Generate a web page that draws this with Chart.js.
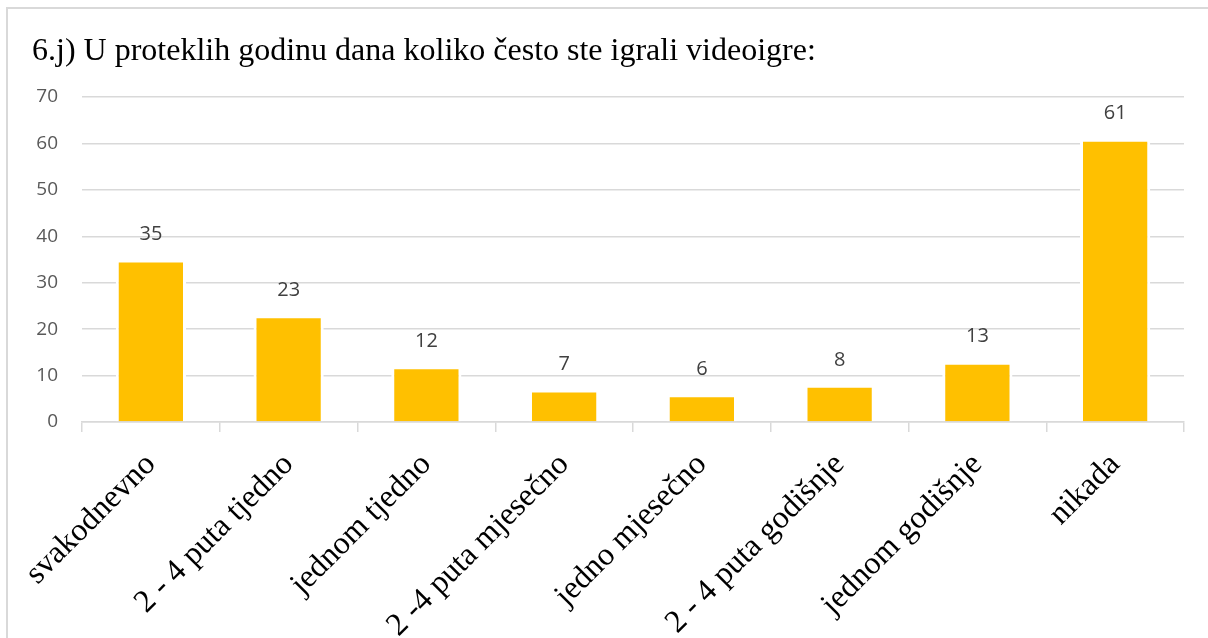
<!DOCTYPE html>
<html>
<head>
<meta charset="utf-8">
<title>Videoigre</title>
<script src="https://cdn.jsdelivr.net/npm/chart.js@4.4.1/dist/chart.umd.min.js"></script>
<style>
    html, body { margin: 0; padding: 0; background: #fff; overflow: hidden; }
    #frame {
        position: absolute; left: 6px; top: 7px; width: 1400px; height: 800px;
        border-top: 2px solid #d9d9d9; border-left: 2px solid #d9d9d9;
    }
    #wrap { position: absolute; left: 0; top: 0; width: 1208px; height: 638px; }
</style>
</head>
<body>
<div id="frame"></div>
<div id="wrap"><canvas id="chart"></canvas></div>
<script>
// Podaci ankete
const categories = [
    'svakodnevno',
    '2 - 4 puta tjedno',
    'jednom tjedno',
    '2 -4 puta mjesečno',
    'jedno mjesečno',
    '2 - 4 puta godišnje',
    'jednom godišnje',
    'nikada'
];
const counts = [35, 23, 12, 7, 6, 8, 13, 61];
const yTicks = [0, 10, 20, 30, 40, 50, 60, 70];
const titleText = '6.j) U proteklih godinu dana koliko često ste igrali videoigre:';

// Ispis vrijednosti iznad stupaca
const valueLabels = {
    id: 'valueLabels',
    afterDatasetsDraw(chart) {
        const ctx = chart.ctx;
        const meta = chart.getDatasetMeta(0);
        ctx.save();
        ctx.font = '20px "Open Sans"';
        ctx.fillStyle = '#404040';
        ctx.textAlign = 'center';
        ctx.textBaseline = 'middle';
        meta.data.forEach(function (bar, i) {
            ctx.fillText(String(counts[i]), bar.x, bar.y - 25);
        });
        ctx.restore();
    }
};

let ctx = document.getElementById('chart').getContext('2d');
let chart = new Chart(ctx, {
    type: 'bar',
    data: {
        labels: categories,
        datasets: [{
            data: counts,
            backgroundColor: '#FFC000',
            borderColor: '#ffffff',
            borderWidth: 3,
            borderSkipped: 'start',
            barPercentage: 0.51,
            categoryPercentage: 1
        }]
    },
    options: {
        responsive: true,
        maintainAspectRatio: false,
        animation: false,
        layout: { padding: { left: 32, right: 24, top: 0, bottom: 0 } },
        plugins: {
            legend: { display: false },
            tooltip: { enabled: false },
            title: {
                display: true,
                text: titleText,
                align: 'start',
                color: '#000',
                font: { family: '"Liberation Serif"', size: 32, weight: 'normal' },
                padding: { top: 32, bottom: 26.6 }
            }
        },
        scales: {
            x: {
                grid: {
                    offset: true,
                    drawOnChartArea: false,
                    drawTicks: true,
                    tickLength: 10,
                    color: '#d9d9d9',
                    lineWidth: 1.5
                },
                border: { display: true, color: '#d9d9d9', width: 1.5 },
                ticks: {
                    color: '#000',
                    font: { family: '"Liberation Serif"', size: 32 },
                    minRotation: 45,
                    maxRotation: 45,
                    autoSkip: false,
                    padding: 14
                },
                afterFit(scale) {
                    scale.height = 638 - 422;
                    scale.paddingLeft = 0;
                    scale.paddingRight = 0;
                }
            },
            y: {
                min: 0,
                max: 70,
                afterBuildTicks(scale) {
                    scale.ticks = yTicks.map(v => ({ value: v }));
                },
                grid: { color: '#d9d9d9', lineWidth: 1.5, drawTicks: false },
                border: { display: false },
                ticks: {
                    color: '#595959',
                    font: { family: '"Open Sans"', size: 19 },
                    padding: 24
                },
                afterFit(scale) {
                    scale.width = 50;
                }
            }
        }
    },
    plugins: [valueLabels]
});
</script>
</body>
</html>
